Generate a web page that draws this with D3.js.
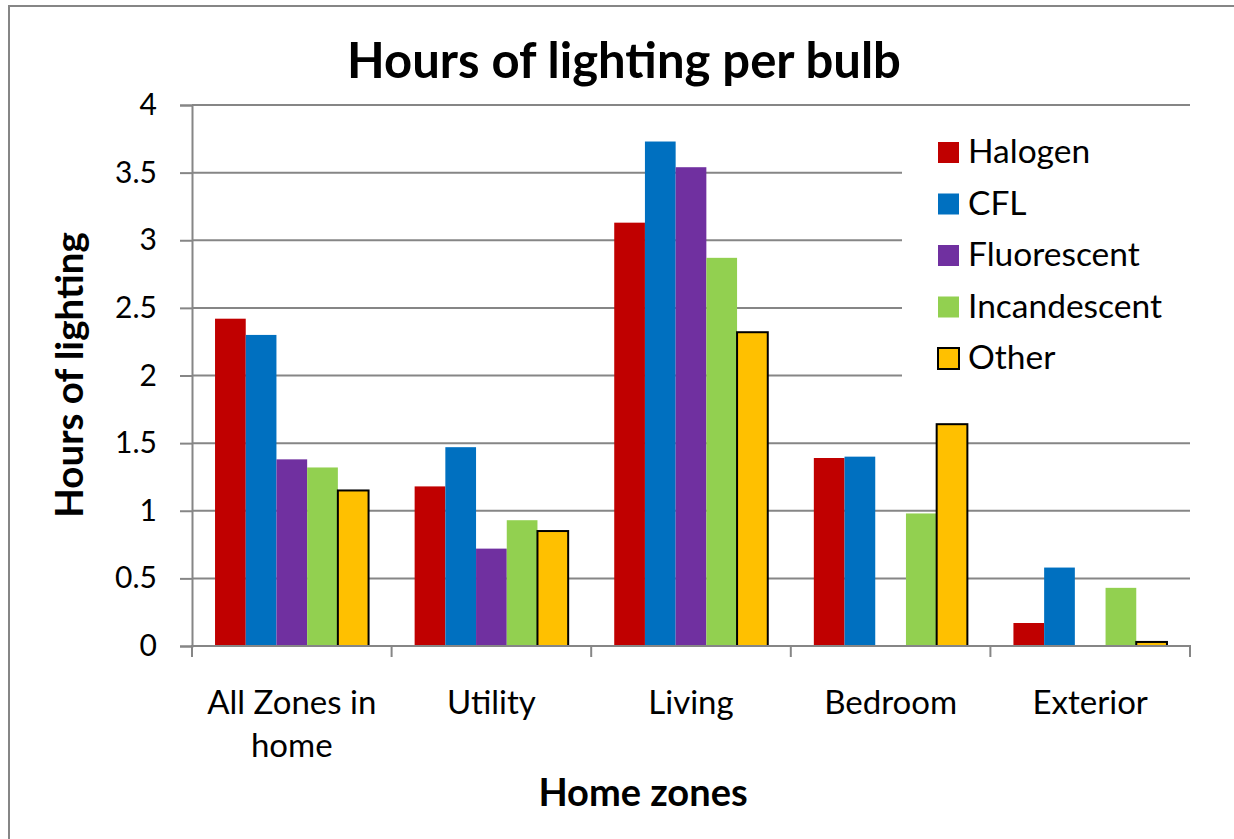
<!DOCTYPE html>
<html>
<head>
<meta charset="utf-8">
<script src="https://cdn.jsdelivr.net/npm/d3@7"></script>
<style>
  body { margin: 0; background: #fff; }
  text { font-family: Lato, "Open Sans", sans-serif; fill: #000; }
</style>
</head>
<body>
<div id="chart"></div>
<script>
// chart data
var zones = ["All Zones in home", "Utility", "Living", "Bedroom", "Exterior"]
var zoneLines = [["All Zones in", "home"], ["Utility"], ["Living"], ["Bedroom"], ["Exterior"]]
var series = ["Halogen", "CFL", "Fluorescent", "Incandescent", "Other"]
var colors = ["#C00000", "#0070C0", "#7030A0", "#92D050", "#FFC000"]
var halogen      = [2.42, 1.18, 3.13, 1.39, 0.17]
var cfl          = [2.30, 1.47, 3.73, 1.40, 0.58]
var fluorescent  = [1.38, 0.72, 3.54, 0, 0]
var incandescent = [1.32, 0.93, 2.87, 0.98, 0.43]
var other        = [1.15, 0.85, 2.32, 1.64, 0.03]
var yTicks = [0, 0.5, 1, 1.5, 2, 2.5, 3, 3.5, 4]

var values = [halogen, cfl, fluorescent, incandescent, other]

var W = 1234, H = 839
var plot = {left: 192, right: 1190, top: 105, bottom: 646}
var grey = "#868686"

var svg = d3.select("#chart").append("svg")
    .attr("width", W)
    .attr("height", H)

// outer chart border (only top and left edges fall inside the picture)
svg.append("rect")
    .attr("x", 9).attr("y", 6)
    .attr("width", 1300).attr("height", 900)
    .attr("fill", "#fff")
    .attr("stroke", grey)
    .attr("stroke-width", 2)

var x0 = d3.scaleBand()
    .domain(zones)
    .range([plot.left, plot.right])

var x1 = d3.scaleBand()
    .domain(series)
    .range([0, x0.bandwidth()])
    .paddingOuter(0.75)

var y = d3.scaleLinear()
    .domain([0, 4])
    .range([plot.bottom, plot.top])

// left axis
var yAxis = svg.append("g")
    .attr("transform", "translate(" + plot.left + ",0)")
    .call(d3.axisLeft(y).tickValues(yTicks).tickSize(12).tickFormat(d3.format("")))
yAxis.select(".domain").attr("stroke", grey).attr("stroke-width", 2)
yAxis.selectAll(".tick line").attr("stroke", grey).attr("stroke-width", 2)
yAxis.selectAll(".tick text")
    .attr("x", -35)
    .style("font-size", "30px")
    .style("font-family", "Lato, sans-serif")

// gridlines
svg.append("g")
  .selectAll("line")
  .data(yTicks.filter(function(d) { return d > 0 }))
  .enter()
  .append("line")
    .attr("x1", plot.left)
    .attr("x2", plot.right)
    .attr("y1", function(d) { return y(d) })
    .attr("y2", function(d) { return y(d) })
    .attr("stroke", grey)
    .attr("stroke-width", 2)

// legend background hides the gridlines behind it
var legend = svg.append("g")
legend.append("rect")
    .attr("x", 902).attr("y", 118)
    .attr("width", plot.right - 902 + 2).attr("height", 267)
    .attr("fill", "#fff")

// bars
for (let s = 0; s < series.length; s++) {
  svg.append("g")
    .selectAll("rect")
    .data(values[s].map(function(v, i) { return {zone: zones[i], v: v} }))
    .enter()
    .filter(function(d) { return d.v > 0 })
    .append("rect")
      .attr("x", function(d) { return x0(d.zone) + x1(series[s]) })
      .attr("y", function(d) { return y(d.v) })
      .attr("width", x1.bandwidth())
      .attr("height", function(d) { return plot.bottom - y(d.v) })
      .attr("fill", colors[s])
      .attr("stroke", s == 4 ? "#000" : "none")
      .attr("stroke-width", 2)
}

// bottom axis with tick marks at the category boundaries
var bounds = zones.map(function(z) { return x0(z) }).concat([plot.right])
svg.append("line")
    .attr("x1", plot.left - 1).attr("x2", plot.right + 1)
    .attr("y1", plot.bottom).attr("y2", plot.bottom)
    .attr("stroke", grey).attr("stroke-width", 2)
svg.append("g")
  .selectAll("line")
  .data(bounds)
  .enter()
  .append("line")
    .attr("x1", function(d) { return d }).attr("x2", function(d) { return d })
    .attr("y1", plot.bottom).attr("y2", plot.bottom + 11)
    .attr("stroke", grey).attr("stroke-width", 2)

var xLab = svg.append("g")
  .selectAll("text")
  .data(zones)
  .enter()
  .append("text")
    .attr("text-anchor", "middle")
    .attr("y", 714)
    .style("font-size", "33px")
xLab.selectAll("tspan")
  .data(function(d, i) { return zoneLines[i] })
  .enter()
  .append("tspan")
    .attr("x", function() { var z = d3.select(this.parentNode).datum(); return x0(z) + x0.bandwidth() / 2 })
    .attr("dy", function(d, i) { return i == 0 ? 0 : 43 })
    .text(function(d) { return d })

// legend items
series.forEach(function(name, i) {
  var cy = 152 + i * 51.5
  legend.append("rect")
    .attr("x", 938).attr("y", cy - 10)
    .attr("width", 21).attr("height", 21)
    .attr("fill", colors[i])
    .attr("stroke", i == 4 ? "#000" : "none")
    .attr("stroke-width", 2)
  legend.append("text")
    .attr("x", 968).attr("y", cy + 11)
    .style("font-size", "33.5px")
    .text(name)
})

// titles
svg.append("text")
    .attr("x", 624).attr("y", 78)
    .attr("text-anchor", "middle")
    .style("font-size", "49px")
    .style("font-weight", "bold")
    .text("Hours of lighting per bulb")

svg.append("text")
    .attr("x", 643).attr("y", 806)
    .attr("text-anchor", "middle")
    .style("font-size", "38px")
    .style("font-weight", "bold")
    .text("Home zones")

svg.append("text")
    .attr("transform", "translate(83,375) rotate(-90)")
    .attr("text-anchor", "middle")
    .style("font-size", "38.5px")
    .style("font-weight", "bold")
    .text("Hours of lighting")
</script>
</body>
</html>
